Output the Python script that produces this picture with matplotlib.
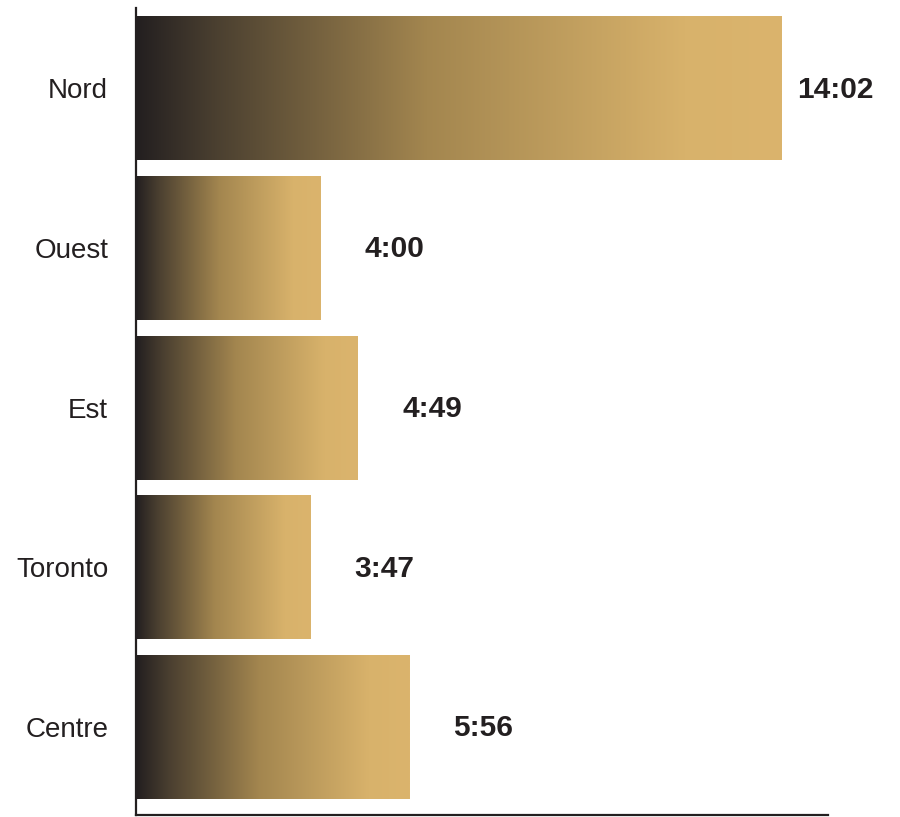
import numpy as np
import matplotlib.pyplot as plt
from matplotlib.colors import LinearSegmentedColormap

# données : temps d'attente (mm:ss) par région
regions = ['Nord', 'Ouest', 'Est', 'Toronto', 'Centre']
temps = ['14:02', '4:00', '4:49', '3:47', '5:56']
secondes = [int(t.split(':')[0]) * 60 + int(t.split(':')[1]) for t in temps]

sombre = '#231f20'
dore = '#dbb46d'

# dégradé noir -> doré, plus rapide au début
cmap = LinearSegmentedColormap.from_list('or', [(0, sombre), (0.12, '#4a3f30'), (0.45, '#a3864f'),
                                                (0.85, '#d8b26b'), (1, dore)])
grad = np.linspace(0, 1, 256).reshape(1, -1)

plt.rcParams['font.family'] = ['Liberation Sans', 'DejaVu Sans']

fig = plt.figure(figsize=(9, 8.17), dpi=100)
ax = fig.add_axes([136 / 900, 2 / 817, 692 / 900, 807 / 817])

hauteur = 0.9
for i, v in enumerate(secondes):
    ax.imshow(grad, cmap=cmap, aspect='auto', interpolation='bilinear',
              extent=(0, v, i + hauteur / 2, i - hauteur / 2), zorder=2)

xmax = 902
ax.set_xlim(0, xmax)
ax.set_ylim(4.551, -0.504)

# étiquettes de valeur
for i, (v, t) in enumerate(zip(secondes, temps)):
    ecart = 32 if v < xmax * 0.8 else 11
    ax.annotate(t, (v, i), xytext=(ecart, -1), textcoords='offset points',
                ha='left', va='center', fontsize=21.5, fontweight='bold',
                color=sombre, annotation_clip=False)

ax.set_yticks(range(len(regions)))
ax.set_yticklabels(regions, fontsize=20, color=sombre)
ax.tick_params(axis='y', length=0, pad=20)
ax.set_xticks([])

for s in ['top', 'right']:
    ax.spines[s].set_visible(False)
for s in ['left', 'bottom']:
    ax.spines[s].set_color(sombre)
    ax.spines[s].set_linewidth(1.6)

fig.savefig('out.png', dpi=100, facecolor='white')
